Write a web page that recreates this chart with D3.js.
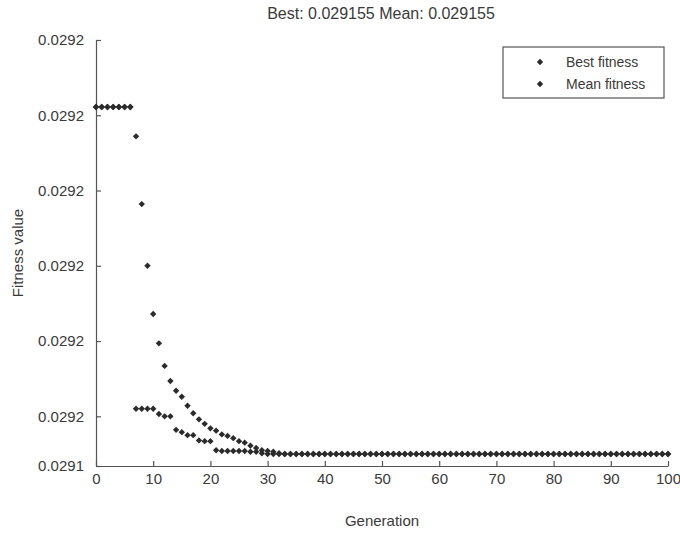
<!DOCTYPE html>
<html>
<head>
<meta charset="utf-8">
<script src="https://cdn.jsdelivr.net/npm/d3@7"></script>
<style>
html,body{margin:0;padding:0;background:#fff;}
svg{display:block;}
text{font-family:"Liberation Sans",Arial,sans-serif;fill:#3a3a3a;}
</style>
</head>
<body>
<svg id="chart" width="680" height="539"></svg>
<script>
// ---- data ----
const generations = d3.range(0, 101);
const bestFitness = [
  0.02915961,0.02915961,0.02915961,0.02915961,0.02915961,0.02915961,0.02915961,
  0.02915560,0.02915560,0.02915560,0.02915560,0.02915553,0.02915550,0.02915550,
  0.02915532,0.02915529,0.02915525,0.02915525,0.02915518,0.02915517,0.02915517,
  0.02915505,0.02915504,0.02915504,0.02915504,0.02915504,0.02915504,0.02915503,
  0.02915503,0.02915501,
  0.02915500,0.02915500,0.02915500,0.02915500,0.02915500,0.02915500,0.02915500,0.02915500,0.02915500,0.02915500,
  0.02915500,0.02915500,0.02915500,0.02915500,0.02915500,0.02915500,0.02915500,0.02915500,0.02915500,0.02915500,
  0.02915500,0.02915500,0.02915500,0.02915500,0.02915500,0.02915500,0.02915500,0.02915500,0.02915500,0.02915500,
  0.02915500,0.02915500,0.02915500,0.02915500,0.02915500,0.02915500,0.02915500,0.02915500,0.02915500,0.02915500,
  0.02915500,0.02915500,0.02915500,0.02915500,0.02915500,0.02915500,0.02915500,0.02915500,0.02915500,0.02915500,
  0.02915500,0.02915500,0.02915500,0.02915500,0.02915500,0.02915500,0.02915500,0.02915500,0.02915500,0.02915500,
  0.02915500,0.02915500,0.02915500,0.02915500,0.02915500,0.02915500,0.02915500,0.02915500,0.02915500,0.02915500,
  0.02915500
];
const meanFitness = [
  0.02915961,0.02915961,0.02915961,0.02915961,0.02915961,0.02915961,0.02915961,
  0.02915922,0.02915832,0.02915750,0.02915686,0.02915647,0.02915617,0.02915597,
  0.02915584,0.02915576,0.02915564,0.02915554,0.02915546,0.02915540,0.02915534,
  0.02915531,0.02915526,0.02915524,0.02915521,0.02915517,0.02915515,0.02915511,
  0.02915508,0.02915505,0.02915504,0.02915503,0.02915501,
  0.02915500,0.02915500,0.02915500,0.02915500,0.02915500,0.02915500,0.02915500,
  0.02915500,0.02915500,0.02915500,0.02915500,0.02915500,0.02915500,0.02915500,0.02915500,0.02915500,0.02915500,
  0.02915500,0.02915500,0.02915500,0.02915500,0.02915500,0.02915500,0.02915500,0.02915500,0.02915500,0.02915500,
  0.02915500,0.02915500,0.02915500,0.02915500,0.02915500,0.02915500,0.02915500,0.02915500,0.02915500,0.02915500,
  0.02915500,0.02915500,0.02915500,0.02915500,0.02915500,0.02915500,0.02915500,0.02915500,0.02915500,0.02915500,
  0.02915500,0.02915500,0.02915500,0.02915500,0.02915500,0.02915500,0.02915500,0.02915500,0.02915500,0.02915500,
  0.02915500,0.02915500,0.02915500,0.02915500,0.02915500,0.02915500,0.02915500,0.02915500,0.02915500,0.02915500,
  0.02915500
];
const xTicks = [0,10,20,30,40,50,60,70,80,90,100];
const yTickValues = [0.02915484,0.0291555,0.0291565,0.0291575,0.0291585,0.0291595,0.0291605];
const yTickLabels = ["0.0291","0.0292","0.0292","0.0292","0.0292","0.0292","0.0292"];
const seriesNames = ["Best fitness","Mean fitness"];
const titleText = "Best: 0.029155 Mean: 0.029155";

// ---- layout ----
const svg = d3.select("#chart");
const L = 96, R = 668, T = 40, B = 466;
const x = d3.scaleLinear().domain([0,100]).range([L,R]);
const y = d3.scaleLinear().domain([yTickValues[0], yTickValues[yTickValues.length-1]]).range([B,T]);
const axisColor = "#555";

// axes
const xAxis = d3.axisBottom(x).tickValues(xTicks).tickSizeInner(-5).tickSizeOuter(0).tickPadding(7).tickFormat(d3.format("d"));
const gx = svg.append("g").attr("transform",`translate(0,${B})`).call(xAxis);
const yAxis = d3.axisLeft(y).tickValues(yTickValues).tickSizeInner(-5).tickSizeOuter(0).tickPadding(12)
  .tickFormat((d,i)=>yTickLabels[i]);
const gy = svg.append("g").attr("transform",`translate(${L},0)`).call(yAxis);
[gx,gy].forEach(g=>{
  g.select(".domain").attr("stroke",axisColor).attr("stroke-width",1.2);
  g.selectAll(".tick line").attr("stroke",axisColor).attr("stroke-width",1.2);
  g.selectAll(".tick text").attr("font-size",15).attr("fill","#3a3a3a")
    .attr("font-family","'Liberation Sans',Arial,sans-serif");
});

// title & axis labels
svg.append("text").attr("x",381).attr("y",19).attr("text-anchor","middle").attr("font-size",16).text(titleText);
svg.append("text").attr("x",382).attr("y",526).attr("text-anchor","middle").attr("font-size",15).text("Generation");
svg.append("text").attr("transform","translate(23,253) rotate(-90)").attr("text-anchor","middle").attr("font-size",15).text("Fitness value");

// markers
const symType = d3.symbolDiamond2 || d3.symbolDiamond;
const sym = d3.symbol().type(symType).size(26);
const series = [bestFitness, meanFitness];
series.forEach((vals,si)=>{
  svg.append("g").selectAll("path").data(vals).join("path")
    .attr("d",sym)
    .attr("transform",(d,i)=>`translate(${x(generations[i])},${y(d)})`)
    .attr("fill","#2b2b2b");
});

// legend
const lg = svg.append("g");
lg.append("rect").attr("x",503).attr("y",47).attr("width",161).attr("height",51)
  .attr("fill","#fff").attr("stroke",axisColor).attr("stroke-width",1.2);
seriesNames.forEach((n,i)=>{
  const yy = 62 + i*22;
  lg.append("path").attr("d",sym).attr("transform",`translate(540,${yy})`).attr("fill","#2b2b2b");
  lg.append("text").attr("x",566).attr("y",yy+5).attr("font-size",14).text(n);
});
</script>
</body>
</html>
